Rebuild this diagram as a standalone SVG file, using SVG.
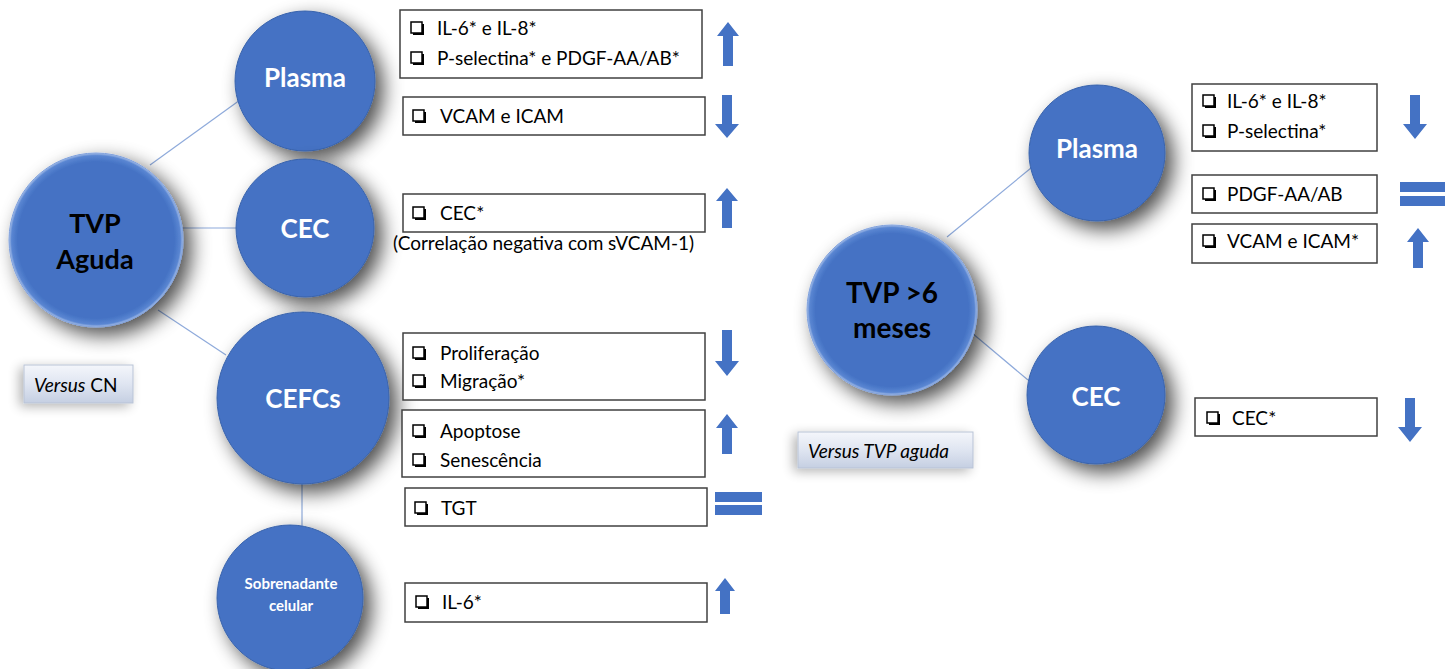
<svg xmlns="http://www.w3.org/2000/svg" width="1455" height="669" viewBox="0 0 1455 669">
<defs>
<filter id="shadow" x="-40%" y="-40%" width="180%" height="180%">
<feGaussianBlur in="SourceAlpha" stdDeviation="10"/>
<feOffset dx="8" dy="8" result="b"/>
<feComponentTransfer><feFuncA type="linear" slope="0.7"/></feComponentTransfer>
<feMerge><feMergeNode/><feMergeNode in="SourceGraphic"/></feMerge>
</filter>
<filter id="bshadow" x="-20%" y="-40%" width="140%" height="180%">
<feGaussianBlur in="SourceAlpha" stdDeviation="6"/>
<feOffset dx="-4" dy="3" result="b"/>
<feComponentTransfer><feFuncA type="linear" slope="0.3"/></feComponentTransfer>
<feMerge><feMergeNode/><feMergeNode in="SourceGraphic"/></feMerge>
</filter>
<linearGradient id="vs" x1="0" y1="0" x2="0" y2="1">
<stop offset="0" stop-color="#f4f6fb"/>
<stop offset="0.5" stop-color="#dfe5f1"/>
<stop offset="1" stop-color="#c5cfe2"/>
</linearGradient>
<radialGradient id="rim" cx="0.5" cy="0.5" r="0.5">
<stop offset="0.9" stop-color="#4472C4"/>
<stop offset="0.97" stop-color="#5a86d2"/>
<stop offset="1" stop-color="#a9c1ea"/>
</radialGradient>
<g id="chk">
<rect x="2" y="2" width="11" height="11" fill="#000"/>
<rect x="0" y="0" width="11" height="11" fill="#fff" stroke="#000" stroke-width="1.5"/>
</g>
</defs>
<style>
.node{fill:#4472C4;stroke:#3a63ab;stroke-width:1}
.big{fill:url(#rim);stroke:#7fa0dc;stroke-width:1}
.wt{font-family:Lato,"Liberation Sans",sans-serif;font-weight:bold;fill:#fff;text-anchor:middle}
.bt{font-family:Lato,"Liberation Sans",sans-serif;font-weight:bold;fill:#000;text-anchor:middle}
.box{fill:#fff;stroke:#404040;stroke-width:1.5}
.tx{font-family:Lato,"Liberation Sans",sans-serif;font-size:19px;fill:#000}
.arr{fill:#4472C4}
.conn{stroke:#8eaadb;stroke-width:1.2;fill:none}
.vbox{fill:url(#vs);stroke:#b9c3d6;stroke-width:1}
.it{font-family:Lato,"Liberation Sans",sans-serif;font-size:19px;fill:#000}
</style>
<rect width="1455" height="669" fill="#ffffff"/>

<g id="connectors">
<line class="conn" x1="150" y1="165" x2="240" y2="100"/>
<line class="conn" x1="182" y1="228" x2="236" y2="228"/>
<line class="conn" x1="158" y1="310" x2="226" y2="355"/>
<line class="conn" x1="302" y1="484" x2="302" y2="527"/>
<line class="conn" x1="947" y1="237" x2="1031" y2="168"/>
<line class="conn" x1="972" y1="333" x2="1028" y2="380"/>
</g>

<g id="node-tvp-aguda">
<circle class="big" cx="96" cy="240" r="87" filter="url(#shadow)"/>
<text class="bt" x="95" y="233" font-size="27">TVP</text>
<text class="bt" x="95" y="269" font-size="27">Aguda</text>
</g>
<g id="node-versus-cn">
<rect class="vbox" x="24" y="365" width="109" height="38" filter="url(#bshadow)"/>
<text class="it" x="34" y="392"><tspan font-style="italic">Versus</tspan> CN</text>
</g>
<g id="node-plasma-1">
<circle class="node" cx="305" cy="81" r="70" filter="url(#shadow)"/>
<text class="wt" x="305" y="87" font-size="26">Plasma</text>
</g>
<g id="node-cec-1">
<circle class="node" cx="305" cy="228" r="69" filter="url(#shadow)"/>
<text class="wt" x="305" y="238" font-size="26">CEC</text>
</g>
<g id="node-cefcs">
<circle class="node" cx="303" cy="398" r="86" filter="url(#shadow)"/>
<text class="wt" x="303" y="408" font-size="26">CEFCs</text>
</g>
<g id="node-sobrenadante">
<circle class="node" cx="290" cy="598" r="73" filter="url(#shadow)"/>
<text class="wt" x="291" y="589" font-size="15">Sobrenadante</text>
<text class="wt" x="291" y="611" font-size="15">celular</text>
</g>

<g id="node-box-l1">
<rect class="box" x="400" y="10" width="302" height="68"/>
<use href="#chk" x="411" y="22"/>
<text class="tx" x="437" y="35">IL-6* e IL-8*</text>
<use href="#chk" x="411" y="52"/>
<text class="tx" x="437" y="65">P-selectina* e PDGF-AA/AB*</text>
</g>
<g id="node-box-l2">
<rect class="box" x="403" y="97" width="302" height="38"/>
<use href="#chk" x="413" y="110"/>
<text class="tx" x="440" y="123">VCAM e ICAM</text>
</g>
<g id="node-box-l3">
<rect class="box" x="403" y="194" width="302" height="38"/>
<use href="#chk" x="413" y="207"/>
<text class="tx" x="440" y="220">CEC*</text>
<text class="tx" x="393" y="250" font-size="17">(Correlação negativa com sVCAM-1)</text>
</g>
<g id="node-box-l4">
<rect class="box" x="403" y="333" width="302" height="67"/>
<use href="#chk" x="413" y="347"/>
<text class="tx" x="440" y="360">Proliferação</text>
<use href="#chk" x="413" y="375"/>
<text class="tx" x="440" y="388">Migração*</text>
</g>
<g id="node-box-l5">
<rect class="box" x="402" y="410" width="303" height="67"/>
<use href="#chk" x="413" y="425"/>
<text class="tx" x="440" y="438">Apoptose</text>
<use href="#chk" x="413" y="454"/>
<text class="tx" x="440" y="467">Senescência</text>
</g>
<g id="node-box-l6">
<rect class="box" x="405" y="488" width="302" height="38"/>
<use href="#chk" x="415" y="502"/>
<text class="tx" x="441" y="515">TGT</text>
</g>
<g id="node-box-l7">
<rect class="box" x="405" y="583" width="302" height="39"/>
<use href="#chk" x="416" y="596"/>
<text class="tx" x="442" y="609">IL-6*</text>
</g>

<g id="node-arrows-left">
<path class="arr" d="M728,22 L739,36 L733,36 L733,66 L723,66 L723,36 L717,36 Z"/>
<path class="arr" d="M727,138 L739,124 L732,124 L732,95 L722,95 L722,124 L715,124 Z"/>
<path class="arr" d="M727,188 L738,201 L732,201 L732,228 L722,228 L722,201 L716,201 Z"/>
<path class="arr" d="M727,376 L739,361 L732,361 L732,330 L722,330 L722,361 L715,361 Z"/>
<path class="arr" d="M727,414 L738,428 L732,428 L732,454 L722,454 L722,428 L716,428 Z"/>
<rect class="arr" x="715" y="492" width="47" height="10"/>
<rect class="arr" x="715" y="505" width="47" height="10"/>
<path class="arr" d="M725,578 L735,591 L730,591 L730,614 L720,614 L720,591 L715,591 Z"/>
</g>

<g id="node-tvp-6m">
<circle class="big" cx="892" cy="310" r="85" filter="url(#shadow)"/>
<text class="bt" x="892" y="303" font-size="28">TVP &gt;6</text>
<text class="bt" x="892" y="338" font-size="28">meses</text>
</g>
<g id="node-versus-tvp">
<rect class="vbox" x="798" y="432" width="175" height="36" filter="url(#bshadow)"/>
<text class="it" x="808" y="458" font-style="italic">Versus TVP aguda</text>
</g>
<g id="node-plasma-2">
<circle class="node" cx="1097" cy="153" r="68" filter="url(#shadow)"/>
<text class="wt" x="1097" y="158" font-size="26">Plasma</text>
</g>
<g id="node-cec-2">
<circle class="node" cx="1096" cy="395" r="69" filter="url(#shadow)"/>
<text class="wt" x="1096" y="406" font-size="26">CEC</text>
</g>

<g id="node-box-r1">
<rect class="box" x="1192" y="84" width="185" height="67"/>
<use href="#chk" x="1203" y="95"/>
<text class="tx" x="1227" y="108">IL-6* e IL-8*</text>
<use href="#chk" x="1203" y="125"/>
<text class="tx" x="1227" y="138">P-selectina*</text>
</g>
<g id="node-box-r2">
<rect class="box" x="1192" y="175" width="185" height="38"/>
<use href="#chk" x="1203" y="188"/>
<text class="tx" x="1227" y="201">PDGF-AA/AB</text>
</g>
<g id="node-box-r3">
<rect class="box" x="1192" y="224" width="185" height="39"/>
<use href="#chk" x="1203" y="235"/>
<text class="tx" x="1227" y="248">VCAM e ICAM*</text>
</g>
<g id="node-box-r4">
<rect class="box" x="1195" y="398" width="182" height="38"/>
<use href="#chk" x="1207" y="412"/>
<text class="tx" x="1232" y="425">CEC*</text>
</g>

<g id="node-arrows-right">
<path class="arr" d="M1415,139 L1427,124 L1420,124 L1420,95 L1410,95 L1410,124 L1403,124 Z"/>
<rect class="arr" x="1400" y="182" width="45" height="10"/>
<rect class="arr" x="1400" y="196" width="45" height="10"/>
<path class="arr" d="M1418,228 L1429,242 L1423,242 L1423,268 L1413,268 L1413,242 L1407,242 Z"/>
<path class="arr" d="M1410,442 L1422,427 L1415,427 L1415,398 L1405,398 L1405,427 L1398,427 Z"/>
</g>
</svg>
